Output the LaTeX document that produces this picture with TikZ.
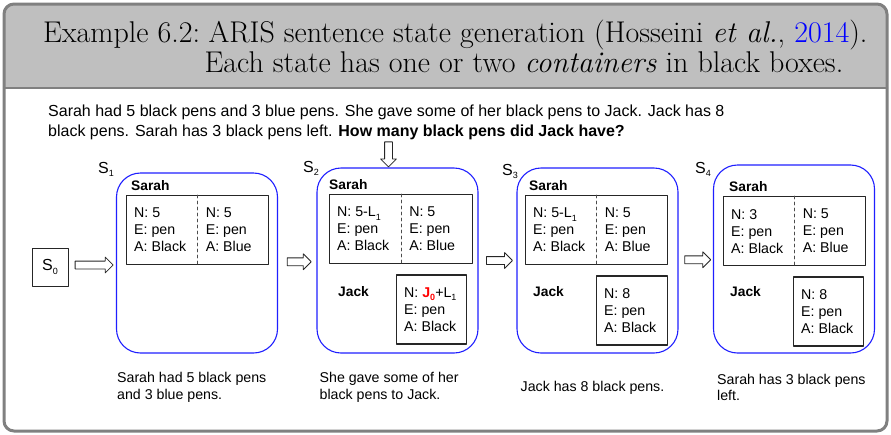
\documentclass[tikz,border=0pt]{standalone}
\usepackage{fontspec}
\newfontfamily\arial{Liberation Sans}
\usetikzlibrary{positioning,shapes.arrows}
\newcommand{\lowsub}[1]{\raisebox{-0.45ex}{\fontsize{9}{9}\selectfont #1}}

\begin{document}
\begin{tikzpicture}[line cap=round,line join=round,x=1pt,y=-1pt,
  statebox/.style={draw=stateblue,line width=1.1pt,rounded corners=24pt,minimum width=161pt},
  contbox/.style={draw=black!85,line width=1.3pt,minimum height=69pt},
  boxtxt/.style={font=\arial\fontsize{14.2}{17}\selectfont,align=left,inner sep=0pt,anchor=west},
  namelbl/.style={font=\arial\bfseries\fontsize{13.8}{16}\selectfont,inner sep=0pt},
  slbl/.style={font=\arial\fontsize{16}{18}\selectfont,inner sep=0pt,anchor=base west},
  capt/.style={font=\arial\fontsize{14.2}{16.5}\selectfont,align=left,inner sep=0pt,anchor=west},
  fatarrow/.style={single arrow,draw=black!85,line width=0.8pt,fill=white,inner xsep=0pt,
    inner ysep=3.5pt,single arrow head extend=4pt,single arrow tip angle=90},
  titletxt/.style={font=\fontsize{30}{30}\selectfont,inner sep=0pt,anchor=base west}]
\definecolor{stateblue}{rgb}{0.12,0.12,1}
\definecolor{framegray}{rgb}{0.5,0.5,0.5}
\definecolor{titlegray}{rgb}{0.75,0.75,0.75}
\useasboundingbox (0,0) rectangle (891,434);

% frame and title band
\begin{scope}
\clip[rounded corners=10pt] (4,4) rectangle (887,431);
\fill[white] (4,4) rectangle (887,431);
\fill[titlegray] (4,4) rectangle (887,88);
\end{scope}
\draw[framegray,line width=2.5pt] (4,88) -- (887,88);
\draw[framegray,line width=3pt,rounded corners=10pt] (4,4) rectangle (887,431);
\node[titletxt] (ttl) at (43,42) {Example 6.2:};
\node[titletxt] (tl1) at ([xshift=8pt]ttl.base east) {ARIS sentence state generation (Hosseini \textit{et al.}, \textcolor{blue}{2014}).};
\node[titletxt] (tl2) at ([xshift=-4pt,yshift=-30pt]tl1.base west) {Each state has one or two \textit{containers} in black boxes.};

% problem text
\node[font=\arial\fontsize{16}{19.5}\selectfont,align=left,inner sep=0pt,anchor=north west] (prob) at (48,105)
  {Sarah had 5 black pens and 3 blue pens. She gave some of her black pens to Jack. Jack has 8\\
   black pens. Sarah has 3 black pens left. \textbf{How many black pens did Jack have?}};

% states
\node[draw=black!85,line width=0.8pt,minimum width=36pt,minimum height=38pt,inner sep=0pt,
  font=\arial\fontsize{16}{18}\selectfont] (s0) at (50,267) {S\lowsub{0}};
\node[statebox,minimum height=180pt] (s1) at (197,263) {};
\node[statebox,minimum height=185pt] (s2) at (397.5,260.5) {};
\node[statebox,minimum height=185pt] (s3) at (597.5,260.5) {};
\node[statebox,minimum height=188pt] (s4) at (794,259) {};
\node[slbl] at (98,173) {S\lowsub{1}};
\node[slbl] at (303,172) {S\lowsub{2}};
\node[slbl] at (502,175) {S\lowsub{3}};
\node[slbl] at (695,173) {S\lowsub{4}};

% arrows
\path (s0.east) -- (s1.west) node[fatarrow,midway,minimum height=38pt] {};
\path (s1.east) -- (s2.west) node[fatarrow,midway,minimum height=24pt] {};
\path (s2.east) -- (s3.west) node[fatarrow,midway,minimum height=26pt] {};
\path (s3.east) -- (s4.west) node[fatarrow,midway,minimum height=26pt] {};
\node[fatarrow,rotate=-90,minimum height=25pt,anchor=tip] (qarr) at ([xshift=-9pt]s2.north) {};

% S1
\node[contbox,minimum width=142pt,anchor=north west] (c1) at (126,195) {};
\draw[dashed,black!70,line width=0.8pt] (c1.north) -- (c1.south);
\node[namelbl,anchor=base west] at ([xshift=5pt,yshift=5pt]c1.north west) {Sarah};
\node[boxtxt] at ([xshift=8pt]c1.west) {N: 5\\E: pen\\A: Black};
\node[boxtxt] at ([xshift=8pt]c1.center) {N: 5\\E: pen\\A: Blue};

% S2
\node[contbox,minimum width=143pt,anchor=north west] (c2) at (329,194) {};
\draw[dashed,black!70,line width=0.8pt] (c2.north) -- (c2.south);
\node[namelbl,anchor=base west] at ([xshift=0pt,yshift=5pt]c2.north west) {Sarah};
\node[boxtxt] at ([xshift=8pt]c2.west) {N: 5-L\lowsub{1}\\E: pen\\A: Black};
\node[boxtxt] at ([xshift=8pt]c2.center) {N: 5\\E: pen\\A: Blue};
\node[contbox,minimum width=70pt,anchor=north east] (j2) at ([xshift=-6pt,yshift=-10pt]c2.south east) {};
\node[namelbl,anchor=west] at (338,292) {Jack};
\node[boxtxt] at ([xshift=8pt]j2.west) {N: \textcolor{red}{\textbf{J\lowsub{0}}}+L\lowsub{1}\\E: pen\\A: Black};

% S3
\node[contbox,minimum width=142pt,anchor=north west] (c3) at (525,195) {};
\draw[dashed,black!70,line width=0.8pt] (c3.north) -- (c3.south);
\node[namelbl,anchor=base west] at ([xshift=4pt,yshift=5pt]c3.north west) {Sarah};
\node[boxtxt] at ([xshift=8pt]c3.west) {N: 5-L\lowsub{1}\\E: pen\\A: Black};
\node[boxtxt] at ([xshift=8pt]c3.center) {N: 5\\E: pen\\A: Blue};
\node[contbox,minimum width=71pt,anchor=north east] (j3) at ([yshift=-10pt]c3.south east) {};
\node[namelbl,anchor=west] at (533,292) {Jack};
\node[boxtxt] at ([xshift=8pt]j3.west) {N: 8\\E: pen\\A: Black};

% S4
\node[contbox,minimum width=142pt,anchor=north west] (c4) at (723,196) {};
\draw[dashed,black!70,line width=0.8pt] (c4.north) -- (c4.south);
\node[namelbl,anchor=base west] at ([xshift=6pt,yshift=5pt]c4.north west) {Sarah};
\node[boxtxt] at ([xshift=8pt]c4.west) {N: 3\\E: pen\\A: Black};
\node[boxtxt] at ([xshift=8pt]c4.center) {N: 5\\E: pen\\A: Blue};
\node[contbox,minimum width=70pt,anchor=north east] (j4) at ([xshift=-2pt,yshift=-10pt]c4.south east) {};
\node[namelbl,anchor=west] at (730,292) {Jack};
\node[boxtxt] at ([xshift=8pt]j4.west) {N: 8\\E: pen\\A: Black};

% captions
\node[capt] at ([xshift=1pt,yshift=-34pt]s1.south west) {Sarah had 5 black pens\\and 3 blue pens.};
\node[capt] at ([xshift=3pt,yshift=-34pt]s2.south west) {She gave some of her\\black pens to Jack.};
\node[capt] at ([xshift=4pt,yshift=-34pt]s3.south west) {Jack has 8 black pens.};
\node[capt] at ([xshift=4pt,yshift=-34pt]s4.south west) {Sarah has 3 black pens\\left.};
\end{tikzpicture}
\end{document}
